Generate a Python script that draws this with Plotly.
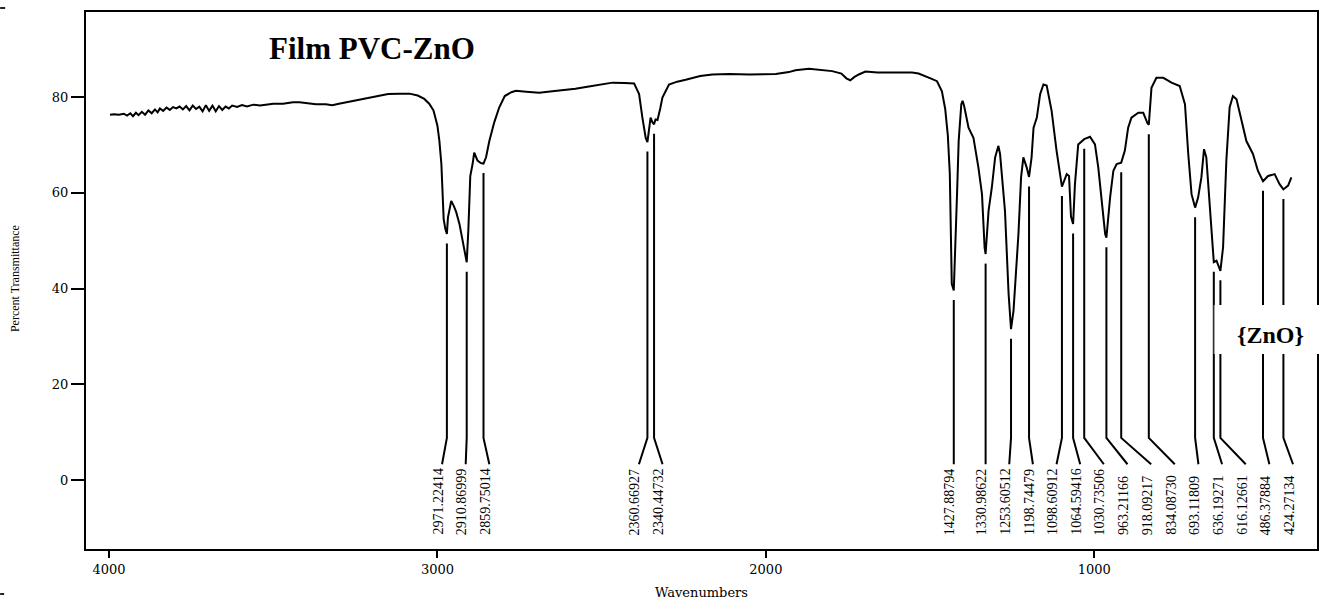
import numpy as np
import plotly.graph_objects as go

# ---------------- data ----------------
wavenumber = [
    3997, 3985, 3970, 3955, 3945, 3935, 3927, 3918, 3910, 3900, 3890, 3880, 3870, 3860,
    3852, 3845, 3835, 3825, 3815, 3805, 3795, 3785, 3775, 3765, 3755, 3745, 3735, 3725,
    3715, 3705, 3695, 3685, 3675, 3665, 3655, 3645, 3635, 3625, 3610, 3595, 3580, 3560,
    3540, 3520, 3500, 3470, 3440, 3420, 3400, 3370, 3340, 3320, 3300, 3270, 3240, 3210,
    3186, 3150, 3116, 3085, 3060, 3040, 3025, 3012, 3000, 2994, 2988, 2984, 2981, 2976,
    2971.22, 2968, 2958, 2950, 2943, 2933, 2923, 2915, 2910.87, 2906, 2900, 2893, 2888,
    2878, 2868, 2859.75, 2852, 2842, 2827, 2812, 2795, 2775, 2761, 2730, 2690, 2650,
    2619, 2580, 2548, 2510, 2467, 2430, 2401, 2392, 2386, 2376, 2366, 2360.67, 2356,
    2351, 2346, 2340.45, 2336, 2330, 2322, 2315, 2295, 2270, 2244, 2200, 2163, 2112,
    2050, 1970, 1930, 1910, 1869, 1840, 1798, 1770, 1755, 1743, 1730, 1717, 1697, 1660,
    1636, 1600, 1555, 1535, 1515, 1495, 1479, 1470, 1464, 1454, 1446, 1440, 1434,
    1427.89, 1422, 1418, 1413, 1405, 1401, 1396, 1383, 1368, 1353, 1342, 1334, 1330.99,
    1322, 1312, 1302, 1292, 1287, 1272, 1261, 1253.61, 1246, 1241, 1231, 1223, 1216,
    1206, 1198.74, 1191, 1185, 1175, 1165, 1155, 1145, 1130, 1115, 1098.61, 1089, 1084,
    1077, 1071, 1064.59, 1059, 1049, 1030.74, 1013, 998, 988, 978, 967, 963.21, 952,
    942, 932, 918.09, 907, 897, 887, 866, 851, 838, 834.09, 826, 811, 790, 765, 740,
    724, 714, 704, 693.12, 684, 674, 666, 659, 648, 638, 636.19, 628, 616.13, 608, 598,
    588, 578, 567, 552, 537, 517, 502, 486.38, 471, 451, 436, 424.27, 410, 400,
]
transmittance = [
    76.3, 76.4, 76.3, 76.5, 76.1, 76.6, 76.0, 76.7, 76.2, 76.9, 76.3, 77.2, 76.6, 77.4,
    76.8, 77.6, 77.1, 77.8, 77.3, 77.9, 77.6, 78.0, 77.4, 78.1, 77.2, 78.2, 77.5, 78.0,
    77.0, 78.3, 77.1, 78.2, 77.0, 78.1, 77.3, 78.0, 77.6, 78.2, 77.9, 78.3, 78.0, 78.4,
    78.2, 78.4, 78.6, 78.6, 78.9, 78.9, 78.7, 78.5, 78.5, 78.3, 78.6, 79.0, 79.4, 79.8,
    80.2, 80.6, 80.7, 80.7, 80.3, 79.6, 78.6, 77.2, 74.0, 70.8, 66.0, 60.0, 54.5, 52.5,
    51.4, 54.8, 58.3, 57.2, 56.0, 53.5, 50.0, 46.8, 45.5, 52.0, 63.5, 66.0, 68.4,
    66.7, 66.2, 66.1, 67.4, 70.8, 74.7, 77.8, 80.2, 81.0, 81.3, 81.1, 80.9, 81.2,
    81.4, 81.7, 82.1, 82.5, 83.0, 82.9, 82.8, 81.5, 80.6, 75.7, 71.5, 70.6, 73.6,
    75.7, 74.8, 74.3, 75.3, 75.2, 77.5, 79.9, 82.6, 83.2, 83.6, 84.4, 84.7, 84.8,
    84.7, 84.8, 85.2, 85.6, 85.9, 85.7, 85.4, 84.9, 83.9, 83.5, 84.2, 84.7, 85.3, 85.1,
    85.1, 85.2, 85.1, 84.9, 84.4, 83.8, 83.3, 82.0, 81.2, 77.5, 72.0, 64.0, 41.0,
    39.6, 50.0, 59.7, 70.8, 78.5, 79.2, 78.0, 73.6, 71.5, 65.3, 59.7, 48.5, 47.2,
    56.2, 61.1, 67.4, 69.8, 68.1, 56.2, 38.9, 31.5, 35.4, 40.3, 51.4, 63.2, 67.4,
    65.3, 63.3, 67.4, 73.6, 75.7, 80.6, 82.6, 82.4, 77.1, 68.8, 61.3, 63.2, 63.9,
    63.5, 55.0, 53.5, 61.8, 70.1, 71.2, 71.7, 70.1, 65.3, 58.3, 51.4, 50.6, 59.0,
    64.6, 66.0, 66.3, 68.8, 73.6, 75.7, 76.7, 76.7, 74.5, 74.2, 81.9, 84.0, 84.0, 83.0, 82.3,
    78.5, 68.1, 59.7, 56.9, 59.0, 63.2, 69.1, 67.4, 56.2, 46.5, 45.5, 45.8, 43.7, 48.6, 66.7,
    77.8, 80.2, 79.5, 75.0, 70.8, 68.1, 64.6, 62.4, 63.5, 63.9, 61.8, 60.7, 61.5, 63.2,
]

peak_wavenumbers = [
    2971.22414, 2910.86999, 2859.75014, 2360.66927, 2340.44732, 1427.88794,
    1330.98622, 1253.60512, 1198.74479, 1098.60912, 1064.59416, 1030.73506,
    963.21166, 918.09217, 834.08730, 693.11809, 636.19271, 616.12661,
    486.37884, 424.27134,
]

x_ticks = [4000, 3000, 2000, 1000]
y_ticks = [0, 20, 40, 60, 80]

title_text = "Film PVC-ZnO"
box_text = "{ZnO}"
x_title = "Wavenumbers"
y_title = "Percent Transmittance"

# ---------------- layout constants ----------------
W, H = 1327, 601
ML, MR, MT, MB = 86, 8, 12, 52
X_RANGE = [4070, 322]
Y_RANGE = [-14.4, 97.75]
PW = W - ML - MR
PH = H - MT - MB

LABEL_SPACING = 72.0   # wavenumber units between neighbouring labels
LINE_GAP = 2.0         # gap between spectrum and marker line
KNEE_Y = 8.8
END_Y = 3.3
LABEL_BOTTOM_Y = -11.9


def place_labels(peaks, d):
    lab = []
    for p in peaks:
        lab.append(p if not lab else min(p, lab[-1] - d))
    clusters = []
    for i in range(len(peaks)):
        if i > 0 and abs(lab[i] - (lab[i - 1] - d)) < 1e-9:
            clusters[-1].append(i)
        else:
            clusters.append([i])
    prev_last = None
    for c in clusters:
        shift = np.mean([peaks[i] for i in c]) - np.mean([lab[i] for i in c])
        if shift > 0:
            if prev_last is not None:
                shift = min(shift, prev_last - d - lab[c[0]])
            shift = max(shift, 0.0)
            for i in c:
                lab[i] += shift
        prev_last = lab[c[-1]]
    return lab


wn_arr = np.array(wavenumber, dtype=float)
t_arr = np.array(transmittance, dtype=float)
order = np.argsort(wn_arr)
peak_t = np.interp(peak_wavenumbers, wn_arr[order], t_arr[order])
label_pos = place_labels(peak_wavenumbers, LABEL_SPACING)

fig = go.Figure()

fig.add_trace(go.Scatter(
    x=wavenumber, y=transmittance, mode="lines",
    line=dict(color="black", width=2), hoverinfo="skip", showlegend=False,
))

lx, ly = [], []
for p, t, lp in zip(peak_wavenumbers, peak_t, label_pos):
    lx += [p, p, lp, None]
    ly += [t - LINE_GAP, KNEE_Y, END_Y, None]
fig.add_trace(go.Scatter(
    x=lx, y=ly, mode="lines", line=dict(color="black", width=2),
    hoverinfo="skip", showlegend=False,
))

annotations = []
for p, lp in zip(peak_wavenumbers, label_pos):
    annotations.append(dict(
        x=lp, y=LABEL_BOTTOM_Y, xref="x", yref="y", text=f"{p:.5f}",
        textangle=-90, showarrow=False, xanchor="center", yanchor="bottom",
        xshift=-4, font=dict(family="Liberation Serif", size=14, color="black"),
    ))

def px_to_paper_x(px):
    return (px - ML) / PW

def px_to_paper_y(py):
    return (H - MB - py) / PH

annotations += [
    dict(x=px_to_paper_x(267), y=px_to_paper_y(48), xref="paper", yref="paper",
         text=f"<b>{title_text}</b>", showarrow=False, xanchor="left", yanchor="middle",
         font=dict(family="Liberation Serif", size=31, color="black")),
    dict(x=px_to_paper_x(1272), y=px_to_paper_y(335), xref="paper", yref="paper",
         text=f"<b>{box_text}</b>", showarrow=False, xanchor="center", yanchor="middle",
         font=dict(family="Liberation Serif", size=24, color="black")),
    dict(x=0.5, y=px_to_paper_y(592), xref="paper", yref="paper",
         text=x_title, showarrow=False, xanchor="center", yanchor="middle",
         font=dict(family="DejaVu Serif", size=13, color="black")),
    dict(x=px_to_paper_x(15), y=px_to_paper_y(279), xref="paper", yref="paper",
         text=y_title, textangle=-90, showarrow=False, xanchor="center", yanchor="middle",
         font=dict(family="Liberation Serif", size=12, color="black")),
]

shapes = [
    dict(type="rect", xref="paper", yref="paper",
         x0=px_to_paper_x(1216), x1=px_to_paper_x(1326),
         y0=px_to_paper_y(354), y1=px_to_paper_y(305),
         fillcolor="white", line=dict(width=0), layer="above"),
    dict(type="line", xref="paper", yref="paper",
         x0=px_to_paper_x(1216), x1=px_to_paper_x(1216),
         y0=px_to_paper_y(354), y1=px_to_paper_y(305),
         line=dict(color="#888888", width=1), layer="above"),
    dict(type="line", xref="paper", yref="paper",
         x0=px_to_paper_x(0), x1=px_to_paper_x(5),
         y0=px_to_paper_y(8), y1=px_to_paper_y(8),
         line=dict(color="#222222", width=2)),
    dict(type="line", xref="paper", yref="paper",
         x0=px_to_paper_x(0), x1=px_to_paper_x(4),
         y0=px_to_paper_y(594), y1=px_to_paper_y(594),
         line=dict(color="#222222", width=2)),
]

fig.update_layout(
    width=W, height=H,
    margin=dict(l=ML, r=MR, t=MT, b=MB, pad=0),
    paper_bgcolor="white", plot_bgcolor="white",
    showlegend=False,
    annotations=annotations, shapes=shapes,
    xaxis=dict(
        range=X_RANGE, tickmode="array", tickvals=x_ticks,
        ticktext=[str(v) for v in x_ticks],
        ticks="outside", ticklen=7, tickwidth=2, tickcolor="black",
        showline=True, linewidth=2, linecolor="black", mirror=True,
        showgrid=False, zeroline=False,
        tickfont=dict(family="DejaVu Serif", size=13, color="black"),
    ),
    yaxis=dict(
        range=Y_RANGE, tickmode="array", tickvals=y_ticks,
        ticktext=[str(v) for v in y_ticks],
        ticks="outside", ticklen=13, tickwidth=2, tickcolor="black",
        showline=True, linewidth=2, linecolor="black", mirror=True,
        showgrid=False, zeroline=False,
        tickfont=dict(family="DejaVu Serif", size=13, color="black"),
    ),
)

fig.write_html("out.html")
